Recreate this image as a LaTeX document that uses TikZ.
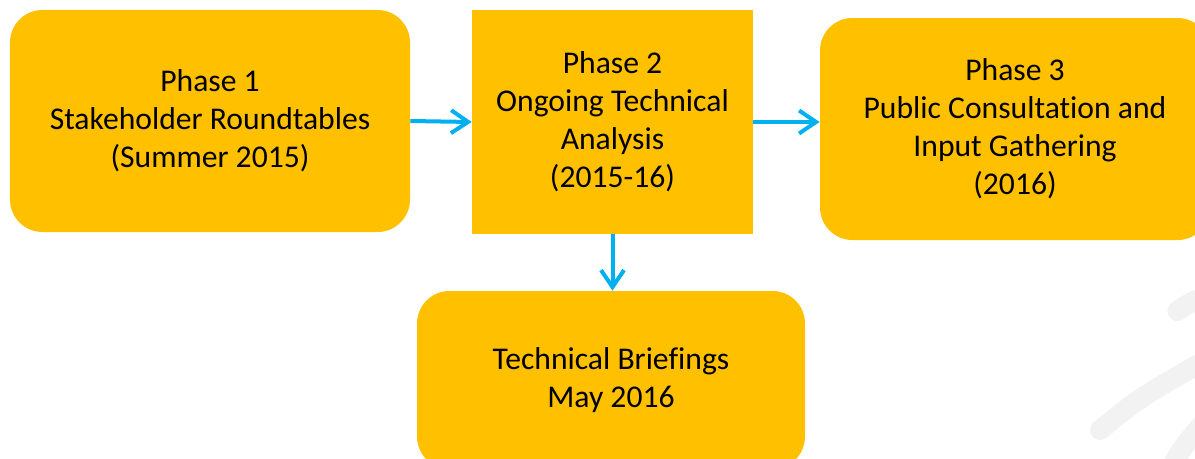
\documentclass[tikz,border=0pt]{standalone}
\usepackage{fontspec}
\setmainfont[Ligatures={NoCommon}]{Carlito}
\usepackage{tikz}
\usetikzlibrary{positioning,arrows.meta,calc}

\begin{document}
\begin{tikzpicture}[
    font=\fontsize{18}{21.6}\selectfont,
    phasebox/.style={
        rectangle,
        rounded corners=0.65cm,
        fill=phaseyellow,
        draw=none,
        align=center,
        inner sep=0pt
    },
    flatbox/.style={
        rectangle,
        fill=phaseyellow,
        draw=none,
        align=center,
        inner sep=0pt
    },
    arrow/.style={
        -{Straight Barb[length=3.4mm,width=4.6mm,line width=0.08cm]},
        line width=0.08cm,
        draw=arrowblue
    },
    watermark/.style={
        line cap=round,
        line width=0.4cm,
        draw=black!5
    }
]

\definecolor{phaseyellow}{RGB}{255,192,0}
\definecolor{arrowblue}{RGB}{0,176,240}

% Picture frame
\useasboundingbox (0,0) rectangle (23.9,-9.18);
\clip (0,0) rectangle (23.9,-9.18);

% Faint watermark strokes
\draw[watermark] (23.55,-6.22) .. controls (23.8,-6.05) .. (24.3,-5.85);
\draw[watermark] (22.0,-8.6) .. controls (22.8,-7.95) .. (24.2,-7.15);
\draw[watermark] (23.3,-9.6) .. controls (23.6,-9.0) .. (24.2,-8.3);

% Phases
\node[phasebox, minimum width=8cm, minimum height=4.44cm] (phase1) at (4.2,-2.42) {
Phase 1\\
Stakeholder Roundtables\\
(Summer 2015)
};
\node[flatbox, minimum width=5.62cm, minimum height=4.48cm] (phase2) at (12.25,-2.44) {
Phase 2\\
Ongoing Technical\\
Analysis\\
(2015-16)
};
\node[phasebox, minimum width=7.8cm, minimum height=4.44cm] (phase3) at (20.3,-2.58) {
Phase 3\\
Public Consultation and\\
Input Gathering\\
(2016)
};

% Briefings
\node[phasebox, minimum width=7.76cm, minimum height=3.56cm] (briefing) at (12.22,-7.6) {
Technical Briefings\\
May 2016
};

% Arrows
\draw[arrow] (phase1.east) -- (phase2.west);
\draw[arrow] (phase2.east) -- (phase2.east -| phase3.west);
\draw[arrow] (phase2.south) -- (phase2.south |- briefing.north);

\end{tikzpicture}
\end{document}
